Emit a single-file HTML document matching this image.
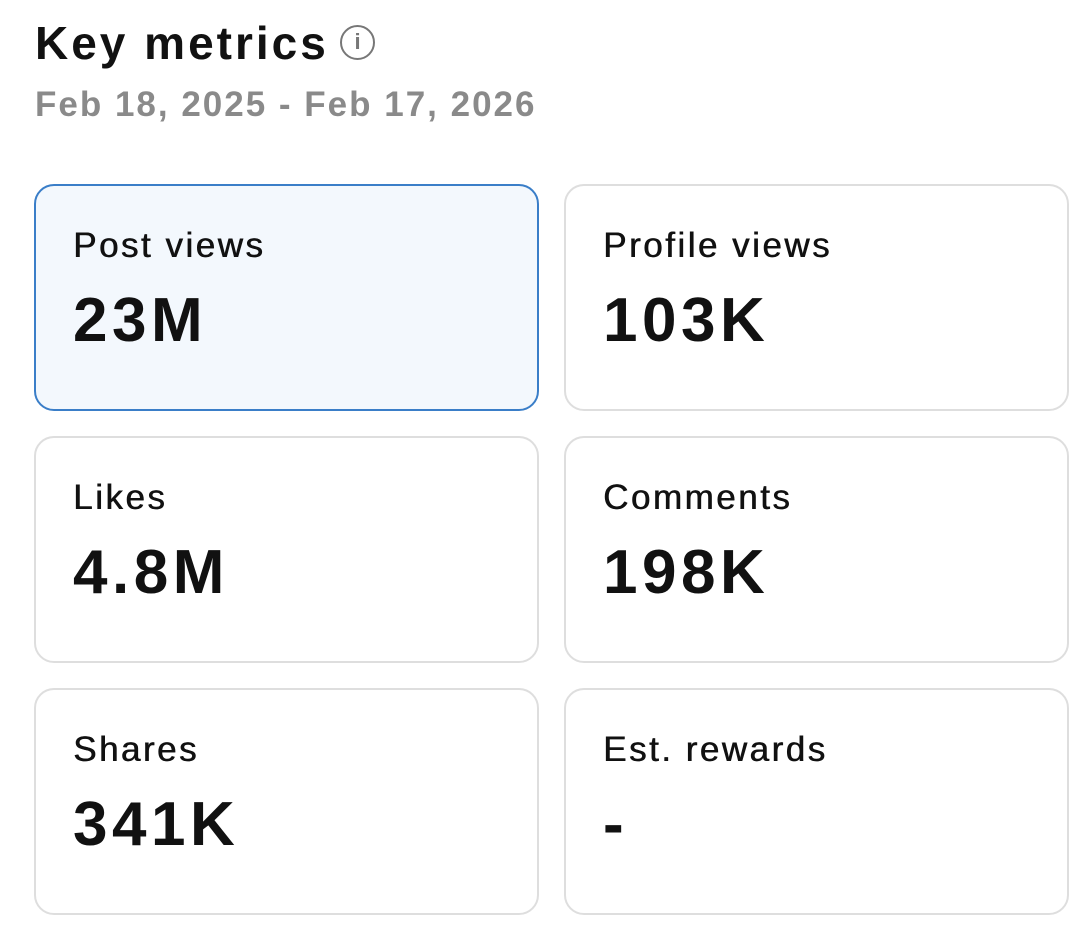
<!DOCTYPE html>
<html><head><meta charset="utf-8">
<style>
html,body{margin:0;padding:0;background:#fff;}
body{width:1091px;height:942px;position:relative;overflow:hidden;font-family:"Liberation Sans",Arial,sans-serif;color:#111;}
.title{position:absolute;left:35px;top:16px;font-size:46px;font-weight:bold;letter-spacing:3px;}
.info{position:absolute;left:340px;top:25px;width:35px;height:35px;border:2.5px solid #777;border-radius:50%;box-sizing:border-box;color:#777;font-size:22px;font-weight:bold;text-align:center;line-height:30px;}
.date{position:absolute;left:35px;top:85px;font-size:35px;color:#8a8a8a;font-weight:bold;letter-spacing:2px;}
.card{position:absolute;width:505px;height:227px;box-sizing:border-box;border:2px solid #dedede;border-radius:20px;background:#fff;}
.card.sel{background:#f3f8fd;border-color:#3a7ec8;}
.lab{position:absolute;left:37px;top:40px;font-size:35px;letter-spacing:2.5px;text-shadow:0.6px 0 0 #111;}
.val{position:absolute;left:37px;top:99px;font-size:62px;font-weight:bold;letter-spacing:4.5px;}
</style></head><body>
<div class="title">Key metrics</div>
<div class="info">i</div>
<div class="date">Feb 18, 2025 - Feb 17, 2026</div>

<div class="card sel" style="left:34px;top:184px"><div class="lab">Post views</div><div class="val">23M</div></div>
<div class="card" style="left:564px;top:184px"><div class="lab">Profile views</div><div class="val">103K</div></div>
<div class="card" style="left:34px;top:436px"><div class="lab">Likes</div><div class="val">4.8M</div></div>
<div class="card" style="left:564px;top:436px"><div class="lab">Comments</div><div class="val">198K</div></div>
<div class="card" style="left:34px;top:688px"><div class="lab">Shares</div><div class="val">341K</div></div>
<div class="card" style="left:564px;top:688px"><div class="lab">Est. rewards</div><div class="val">-</div></div>
</body></html>
